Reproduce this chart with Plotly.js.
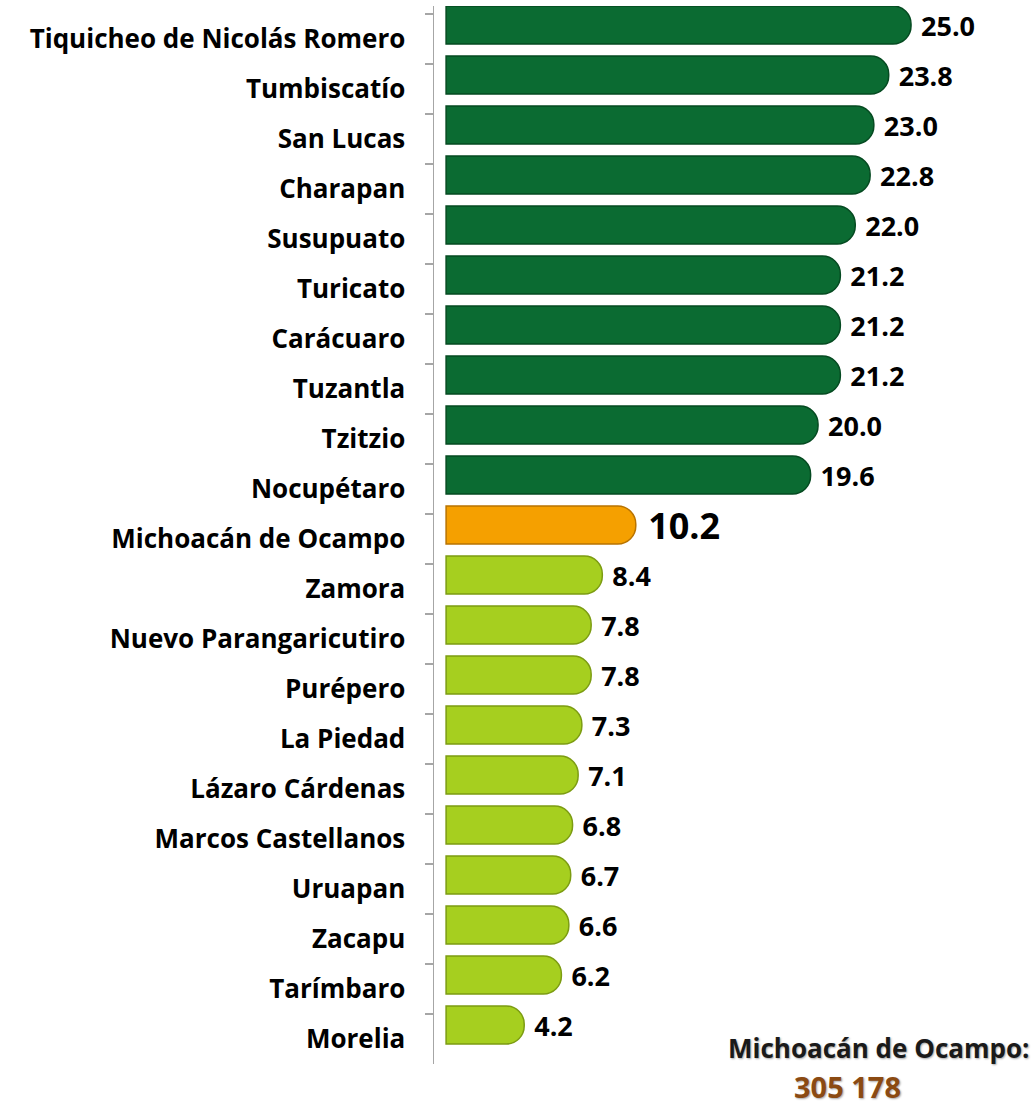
<!DOCTYPE html>
<html>
<head>
<meta charset="utf-8">
<script src="https://cdn.plot.ly/plotly-3.0.1.min.js"></script>
<style>html,body{margin:0;padding:0;background:#fff;}#chart{width:1032px;height:1106px;}</style>
</head>
<body>
<div id="chart"></div>
<script>
// Municipios (top to bottom) and their values
const categories = [
  "Tiquicheo de Nicolás Romero", "Tumbiscatío", "San Lucas", "Charapan", "Susupuato",
  "Turicato", "Carácuaro", "Tuzantla", "Tzitzio", "Nocupétaro", "Michoacán de Ocampo",
  "Zamora", "Nuevo Parangaricutiro", "Purépero", "La Piedad", "Lázaro Cárdenas",
  "Marcos Castellanos", "Uruapan", "Zacapu", "Tarímbaro", "Morelia"
];
const values = [25.0, 23.8, 23.0, 22.8, 22.0, 21.2, 21.2, 21.2, 20.0, 19.6, 10.2,
                8.4, 7.8, 7.8, 7.3, 7.1, 6.8, 6.7, 6.6, 6.2, 4.2];
const stateName = "Michoacán de Ocampo";
const stateTotalLabel = "Michoacán de Ocampo:";
const stateTotal = "305 178";

const stateValue = values[categories.indexOf(stateName)];
const colors = categories.map((c, i) =>
  c === stateName ? "#f5a000" : (values[i] > stateValue ? "#0b6b32" : "#a6cf1f"));
const lineColors = categories.map((c, i) =>
  c === stateName ? "#b87300" : (values[i] > stateValue ? "#054a21" : "#7c9c12"));
const textSizes = categories.map(c => c === stateName ? 36 : 27);

const FONT = "'Open Sans', 'Noto Sans', sans-serif";

const trace = {
  type: "bar",
  orientation: "h",
  y: categories,
  x: values,
  width: 0.76,
  offset: -0.66,
  marker: { color: colors, line: { color: lineColors, width: 1.5 }, cornerradius: 18 },
  texttemplate: "\u00a0%{x:.1f}",
  textposition: "outside",
  constraintext: "none",
  cliponaxis: false,
  textfont: { family: FONT, size: textSizes, color: "#000000", weight: "bold" },
  hoverinfo: "skip"
};

const layout = {
  width: 1032, height: 1106,
  margin: { l: 434, r: 12, t: 6, b: 42 },
  paper_bgcolor: "#ffffff", plot_bgcolor: "#ffffff",
  showlegend: false,
  xaxis: {
    range: [-0.65, 30.86], visible: false, fixedrange: true
  },
  yaxis: {
    type: "category",
    autorange: false,
    range: [20.5, -0.66],
    showline: true, linecolor: "#a6a6a6", linewidth: 1.5,
    ticks: "outside", tickson: "boundaries", ticklen: 8, tickcolor: "#a6a6a6", tickwidth: 1.5,
    ticklabelstandoff: 22,
    showgrid: false, zeroline: false,
    tickfont: { family: FONT, size: 26, color: "#000000", weight: "bold" }
  },
  annotations: [
    { xref: "paper", yref: "paper", x: 0.758, y: 0.0151, text: stateTotalLabel, showarrow: false,
      xanchor: "center", yanchor: "middle",
      font: { family: FONT, size: 26, color: "#1a1a1a", weight: "bold", shadow: "1px 1px 2px rgba(0,0,0,0.35)" } },
    { xref: "paper", yref: "paper", x: 0.705, y: -0.0208, text: stateTotal, showarrow: false,
      xanchor: "center", yanchor: "middle",
      font: { family: FONT, size: 29, color: "#8b4a12", weight: "bold", shadow: "1px 1px 2px rgba(0,0,0,0.35)" } }
  ]
};

Plotly.newPlot("chart", [trace], layout, { displayModeBar: false, staticPlot: true });
</script>
</body>
</html>
